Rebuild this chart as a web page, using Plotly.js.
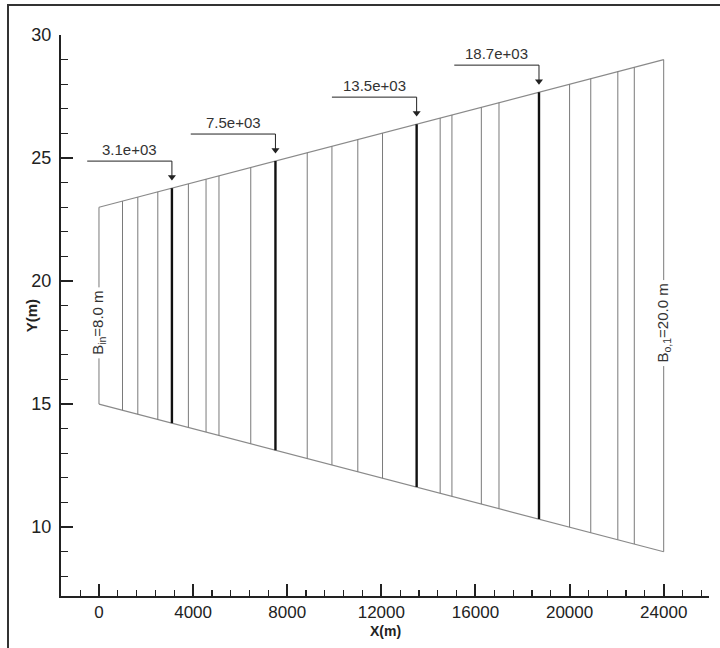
<!DOCTYPE html>
<html>
<head>
<meta charset="utf-8">
<script src="https://cdn.plot.ly/plotly-3.0.1.min.js"></script>
<style>
  html, body { margin: 0; padding: 0; background: #fff; }
  #wrap { position: relative; width: 720px; height: 648px; }
  #chart { position: absolute; left: 0; top: 0; width: 720px; height: 648px; }
  #frame { position: absolute; left: 7px; top: 4px; width: 713px; height: 644px;
           border-left: 2px solid #333; border-top: 2px solid #333; box-sizing: border-box; pointer-events: none; }
</style>
</head>
<body>
<div id="wrap">
  <div id="chart"></div>
  <div id="frame"></div>
</div>
<script>
// ---------- data ----------
const sectionX = [0, 1000, 1650, 2500, 3100, 3800, 4550, 5100, 6450, 7500, 8850, 9900, 11000,
                  12050, 13500, 14500, 15000, 16250, 17000, 18700, 20000, 20900, 22050, 22750, 24000];
const highlightX = [3100, 7500, 13500, 18700];
const highlightLabels = ['3.1e+03', '7.5e+03', '13.5e+03', '18.7e+03'];
const inletX = 0;
const outletX = 24000;
const inletY = [15, 23];   // bottom, top at inlet
const outletY = [9, 29];   // bottom, top at outlet
const inletLabel = 'B<sub>in</sub>=8.0 m';
const outletLabel = 'B<sub>o,1</sub>=20.0 m';
const xTickVals = [0, 4000, 8000, 12000, 16000, 20000, 24000];
const yTickVals = [10, 15, 20, 25, 30];
const xTitle = 'X(m)';
const yTitle = 'Y(m)';

// ---------- helpers ----------
function lerp(a, b, t) { return a + (b - a) * t; }
function topY(x) { return lerp(inletY[1], outletY[1], (x - inletX) / (outletX - inletX)); }
function botY(x) { return lerp(inletY[0], outletY[0], (x - inletX) / (outletX - inletX)); }

const FONT = 'Liberation Sans, Arial, sans-serif';
const leaderRise = 1.1, arrowGap = 0.45, leaderLen = 3600, labelY = 18.3;

// thin section lines
const thinX = [], thinY = [];
sectionX.filter(x => highlightX.indexOf(x) < 0).forEach(x => {
  thinX.push(x, x, null); thinY.push(botY(x), topY(x), null);
});
// thick highlighted sections
const thickX = [], thickY = [];
highlightX.forEach(x => { thickX.push(x, x, null); thickY.push(botY(x), topY(x), null); });
// leaders (horizontal + vertical part) and arrow tips
const leadX = [], leadY = [], tipX = [], tipY = [];
highlightX.forEach(x => {
  const y = topY(x) + leaderRise;
  leadX.push(x - leaderLen, x, x, null); leadY.push(y, y, topY(x) + arrowGap, null);
  tipX.push(x); tipY.push(topY(x) + arrowGap);
});

const traces = [
  { x: [inletX, outletX], y: [inletY[1], outletY[1]], mode: 'lines', line: { color: '#8a8a8a', width: 1.2 }, hoverinfo: 'skip' },
  { x: [inletX, outletX], y: [inletY[0], outletY[0]], mode: 'lines', line: { color: '#8a8a8a', width: 1.2 }, hoverinfo: 'skip' },
  { x: thinX, y: thinY, mode: 'lines', line: { color: '#7a7a7a', width: 1 }, hoverinfo: 'skip', connectgaps: false },
  { x: thickX, y: thickY, mode: 'lines', line: { color: '#111', width: 2.4 }, hoverinfo: 'skip', connectgaps: false },
  { x: leadX, y: leadY, mode: 'lines', line: { color: '#222', width: 1 }, hoverinfo: 'skip', connectgaps: false },
  { x: tipX, y: tipY, mode: 'markers', marker: { symbol: 'triangle-down', size: 7, color: '#222' }, hoverinfo: 'skip' }
];

const annotations = [];
highlightX.forEach((x, i) => {
  const y = topY(x) + leaderRise;
  annotations.push({
    x: x - leaderLen / 2, y: y, xref: 'x', yref: 'y', showarrow: false,
    text: highlightLabels[i], yanchor: 'bottom', xanchor: 'center', yshift: 1,
    font: { family: FONT, size: 15, color: '#333' }
  });
});
annotations.push({
  x: inletX, y: labelY, xref: 'x', yref: 'y', showarrow: false, text: inletLabel,
  textangle: -90, bgcolor: '#fff', borderpad: 3, font: { family: FONT, size: 15, color: '#333' }
});
annotations.push({
  x: outletX, y: labelY, xref: 'x', yref: 'y', showarrow: false, text: outletLabel,
  textangle: -90, bgcolor: '#fff', borderpad: 3, font: { family: FONT, size: 15, color: '#333' }
});
// axis titles
annotations.push({
  x: 0.5, y: -0.063, xref: 'paper', yref: 'paper', showarrow: false, text: '<b>' + xTitle + '</b>',
  xanchor: 'center', yanchor: 'middle', font: { family: FONT, size: 14, color: '#222' }
});
annotations.push({
  x: -0.045, y: 0.5, xref: 'paper', yref: 'paper', showarrow: false, text: '<b>' + yTitle + '</b>',
  textangle: -90, xanchor: 'center', yanchor: 'middle', font: { family: FONT, size: 15, color: '#222' }
});

const layout = {
  width: 720, height: 648,
  margin: { l: 61, r: 11, t: 35, b: 52 },
  paper_bgcolor: '#fff', plot_bgcolor: '#fff',
  showlegend: false,
  font: { family: FONT, color: '#222' },
  xaxis: {
    range: [-1614, 25925], tickvals: xTickVals, ticktext: xTickVals.map(String),
    showgrid: false, zeroline: false, showline: true, linecolor: '#222', linewidth: 2,
    ticks: 'inside', ticklen: 12, tickwidth: 2, tickcolor: '#222',
    minor: { dtick: 800, tick0: 0, ticks: 'inside', ticklen: 6, tickwidth: 1.2, tickcolor: '#222', showgrid: false },
    tickfont: { family: FONT, size: 17, color: '#222' }
  },
  yaxis: {
    range: [7.2, 30], tickvals: yTickVals, ticktext: yTickVals.map(String),
    showgrid: false, zeroline: false, showline: true, linecolor: '#222', linewidth: 2,
    ticks: 'inside', ticklen: 12, tickwidth: 2, tickcolor: '#222', ticklabelstandoff: 4,
    minor: { dtick: 1, tick0: 0, ticks: 'inside', ticklen: 7, tickwidth: 1.2, tickcolor: '#222', showgrid: false },
    tickfont: { family: FONT, size: 18, color: '#222' }
  },
  annotations: annotations
};

Plotly.newPlot('chart', traces, layout, { displayModeBar: false, staticPlot: true });
</script>
</body>
</html>
